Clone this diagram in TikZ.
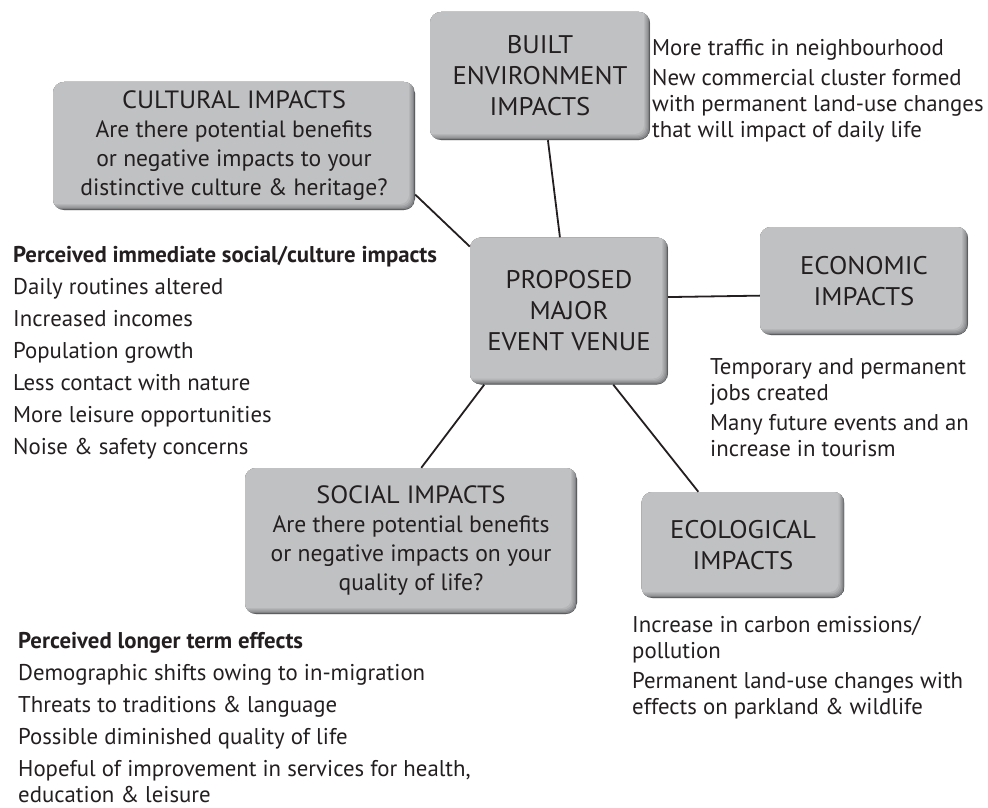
\documentclass[tikz,border=0pt]{standalone}
\usepackage{fontspec}
\setmainfont{PT Sans}
\newfontfamily\capsfont{PT Sans}[FakeStretch=1.05]
\usetikzlibrary{calc}
\definecolor{boxgrey}{HTML}{C0C1C3}
\definecolor{boxdark}{HTML}{58595B}
\definecolor{ink}{HTML}{231F20}
\tikzset{
 impbox/.style={rounded corners=11pt, inner sep=0pt, align=center, text=ink,
   font=\capsfont\fontsize{25.5}{31}\selectfont, fill=boxgrey,
   path picture={
     \fill[boxdark] (path picture bounding box.south west) rectangle (path picture bounding box.north east);
     \foreach \k/\c in {1/40,2.2/60,3.4/75,4.6/88,6/100}{
       \fill[boxgrey!\c!boxdark, rounded corners=9pt] ($(path picture bounding box.north west)+(-20pt,20pt)$) rectangle ($(path picture bounding box.south east)+(-\k pt,\k pt)$);
     }
   }},
 qbox/.style={impbox, font=\fontsize{23.6}{29}\selectfont},
 sizebox/.style 2 args={minimum width=#1pt, minimum height=#2pt},
 link/.style={line width=1.8pt, draw=ink},
 body/.style={anchor=base west, align=left, inner sep=0pt, text=ink, font=\fontsize{22.8}{26}\selectfont},
}
\newcommand{\boxhead}[1]{{\capsfont\fontsize{25}{29}\selectfont #1}}
\begin{document}
\begin{tikzpicture}[x=1pt,y=-1pt]
\useasboundingbox (0,0) rectangle (988,808);
% boxes
\node[impbox, sizebox={220}{128}] (built) at (540,76) {BUILT\\ENVIRONMENT\\IMPACTS};
\node[qbox, sizebox={362}{128}] (cultural) at (234,146) {\boxhead{CULTURAL IMPACTS}\\Are there potential benefits\\or negative impacts to your\\distinctive culture \& heritage?};
\node[impbox, sizebox={198}{147}] (central) at (569,311) {PROPOSED\\MAJOR\\EVENT VENUE};
\node[impbox, sizebox={208}{108}] (economic) at (864,281) {ECONOMIC\\IMPACTS};
\node[impbox, sizebox={203}{106}] (ecological) at (743,545) {ECOLOGICAL\\IMPACTS};
\node[qbox, sizebox={332}{146}] (social) at (411,541) {\boxhead{SOCIAL IMPACTS}\\Are there potential benefits\\or negative impacts on your\\quality of life?};
% connectors
\draw[link] (built) -- (central);
\draw[link] (cultural.-15) -- (central.147);
\draw[link] (central.8) -- (economic.188.7);
\draw[link] (central.-59) -- (ecological.130);
\draw[link] (central.221) -- (social.82);
% texts (base = baseline of last line)
\node[body] (builttext) at (652,137) {More traffic in neighbourhood\\[4pt]New commercial cluster formed\\with permanent land-use changes\\that will impact of daily life};
\node[body] (immediate) at (13,454) {\textbf{Perceived immediate social/culture impacts}\\[6pt]Daily routines altered\\[6pt]Increased incomes\\[6pt]Population growth\\[6pt]Less contact with nature\\[6pt]More leisure opportunities\\[6pt]Noise \& safety concerns};
\node[body] (econtext) at (710,456) {Temporary and permanent\\jobs created\\[4pt]Many future events and an\\increase in tourism};
\node[body] (ecotext) at (632,714) {Increase in carbon emissions/\\pollution\\[4pt]Permanent land-use changes with\\effects on parkland \& wildlife};
\node[body] (longer) at (18,802) {\textbf{Perceived longer term effects}\\[6pt]Demographic shifts owing to in-migration\\[6pt]Threats to traditions \& language\\[6pt]Possible diminished quality of life\\[6pt]Hopeful of improvement in services for health,\\education \& leisure};
\end{tikzpicture}
\end{document}
